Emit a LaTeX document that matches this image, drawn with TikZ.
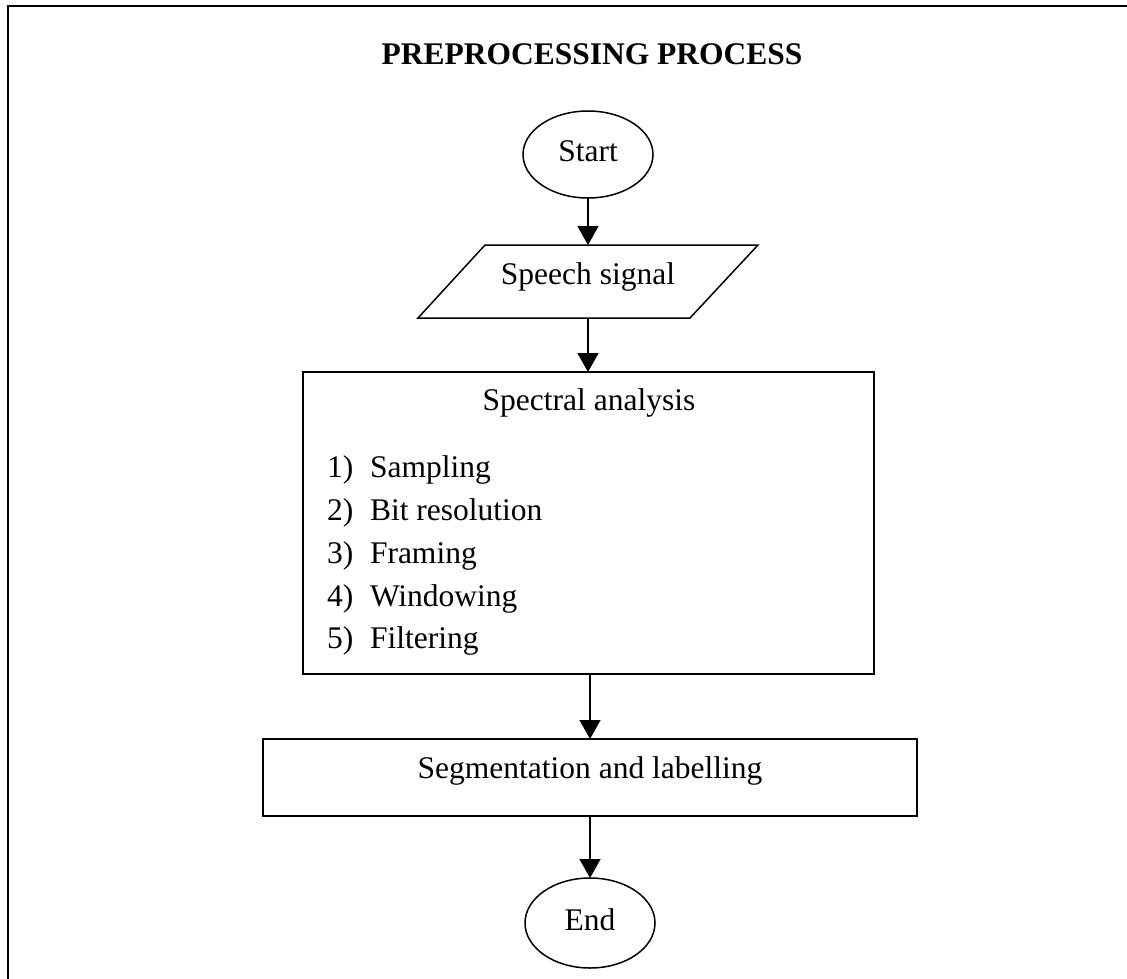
\documentclass[tikz,border=0pt]{standalone}
\usepackage{fontspec}
\setmainfont{Liberation Serif}
\usetikzlibrary{arrows.meta,shapes.geometric,calc}
\begin{document}
\begin{tikzpicture}[x=1pt,y=-1pt,
  every node/.style={font=\fontsize{31.5}{43}\selectfont, inner sep=0pt, outer sep=0pt},
  outline/.style={draw, line width=1.5pt},
  flow/.style={line width=1.5pt, -{Triangle[length=19pt,width=21pt]}},
  txt/.style={anchor=base},
  item/.style={anchor=base west}]
\useasboundingbox (0,0) rectangle (1127,979);
% page frame
\draw[line width=2pt] (8,995) -- (8,6) -- (1140,6);

% title
\node[txt, font=\fontsize{31.5}{43}\selectfont\bfseries] (title) at (592,65) {PREPROCESSING PROCESS};

% start terminal
\node[outline, ellipse, minimum width=130pt, minimum height=87pt] (start) at (588,154.5) {};
\node[txt] (starttext) at (588,161) {Start};

% input parallelogram
\node[minimum width=340pt, minimum height=73pt] (speech) at (588,281.5) {};
\draw[outline] (speech.south west) -- ($(speech.north west)+(67,0)$) -- (speech.north east) -- ($(speech.south east)+(-68,0)$) -- cycle;
\node[txt] (speechtext) at (588,284) {Speech signal};

% spectral analysis block
\node[outline, minimum width=571pt, minimum height=302pt] (spectral) at (588.5,523) {};
\node[txt] (spectitle) at (589,410) {Spectral analysis};
\node[item] (n1) at (327,477) {1)};
\node[item] (i1) at (370,477) {Sampling};
\node[item] (n2) at (327,520) {2)};
\node[item] (i2) at (370,520) {Bit resolution};
\node[item] (n3) at (327,563) {3)};
\node[item] (i3) at (370,563) {Framing};
\node[item] (n4) at (327,606) {4)};
\node[item] (i4) at (370,606) {Windowing};
\node[item] (n5) at (327,648) {5)};
\node[item] (i5) at (370,648) {Filtering};

% segmentation block
\node[outline, minimum width=654pt, minimum height=77pt] (seg) at (590,777.5) {};
\node[txt] (segtext) at (590,778) {Segmentation and labelling};

% end terminal
\node[outline, ellipse, minimum width=130pt, minimum height=90pt] (end) at (590,923) {};
\node[txt] (endtext) at (590,930) {End};

% connectors
\draw[flow] (start.south) -- (start.south |- speech.north);
\draw[flow] (speech.south) -- (speech.south |- spectral.north);
\draw[flow] (seg.north |- spectral.south) -- (seg.north);
\draw[flow] (end.north |- seg.south) -- (end.north);
\end{tikzpicture}
\end{document}
